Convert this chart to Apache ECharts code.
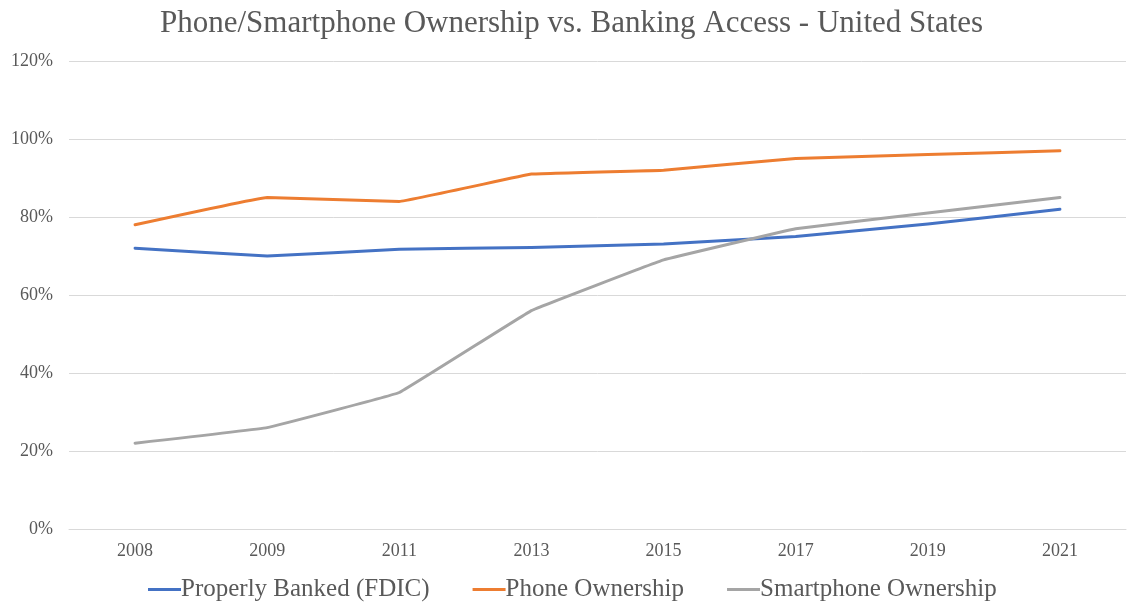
<!DOCTYPE html>
<html>
<head>
<meta charset="utf-8">
<script src="https://cdn.jsdelivr.net/npm/echarts@6/dist/echarts.min.js"></script>
<style>
  html, body { margin: 0; padding: 0; background: #fff; }
  #chart { width: 1127px; height: 614px; }
</style>
</head>
<body>
<div id="chart"></div>
<script>
// Survey years and percentages
const years = ['2008', '2009', '2011', '2013', '2015', '2017', '2019', '2021'];
const properlyBanked = [72, 70, 71.7, 72.2, 73.1, 75, 78.2, 82];
const phoneOwnership = [78, 85, 84, 91, 92, 95, 96, 97];
const smartphoneOwnership = [22, 26, 35, 56, 69, 77, 81, 85];

const seriesNames = ['Properly Banked (FDIC)', 'Phone Ownership', 'Smartphone Ownership'];
const seriesColors = ['#4472C4', '#ED7D31', '#A5A5A5'];

const serif = '"Liberation Serif", "Times New Roman", serif';
const textGray = '#595959';

const chart = echarts.init(document.getElementById('chart'), null, { renderer: 'canvas' });

function lineSeries(name, data, color) {
  return {
    name: name,
    type: 'line',
    data: data,
    smooth: 0.05,
    symbol: 'none',
    lineStyle: { color: color, width: 3, cap: 'round', join: 'round' },
    itemStyle: { color: color }
  };
}

chart.setOption({
  backgroundColor: '#fff',
  animation: false,
  title: {
    text: 'Phone/Smartphone Ownership vs. Banking Access - United States',
    left: 155,
    top: 3,
    textStyle: { fontFamily: serif, fontSize: 31, fontWeight: 'normal', color: textGray }
  },
  legend: {
    bottom: 7,
    left: 143,
    itemWidth: 33,
    itemHeight: 3,
    itemGap: 43,
    icon: 'rect',
    textStyle: { fontFamily: serif, fontSize: 25, color: textGray, padding: [0, 0, 0, -5] },
    data: seriesNames
  },
  grid: { left: 69, right: 1, top: 61, bottom: 85, containLabel: false },
  xAxis: {
    type: 'category',
    data: years,
    boundaryGap: true,
    axisLine: { show: true, lineStyle: { color: '#D9D9D9', width: 1 } },
    axisTick: { show: false },
    axisLabel: { fontFamily: serif, fontSize: 18, color: textGray, margin: 13 }
  },
  yAxis: {
    type: 'value',
    min: 0,
    max: 120,
    interval: 20,
    axisLine: { show: false },
    axisTick: { show: false },
    splitLine: { lineStyle: { color: '#D9D9D9', width: 1 } },
    axisLabel: {
      fontFamily: serif, fontSize: 18, color: textGray, margin: 16,
      formatter: v => v + '%'
    }
  },
  series: [
    lineSeries(seriesNames[0], properlyBanked, seriesColors[0]),
    lineSeries(seriesNames[1], phoneOwnership, seriesColors[1]),
    lineSeries(seriesNames[2], smartphoneOwnership, seriesColors[2])
  ]
});
</script>
</body>
</html>
